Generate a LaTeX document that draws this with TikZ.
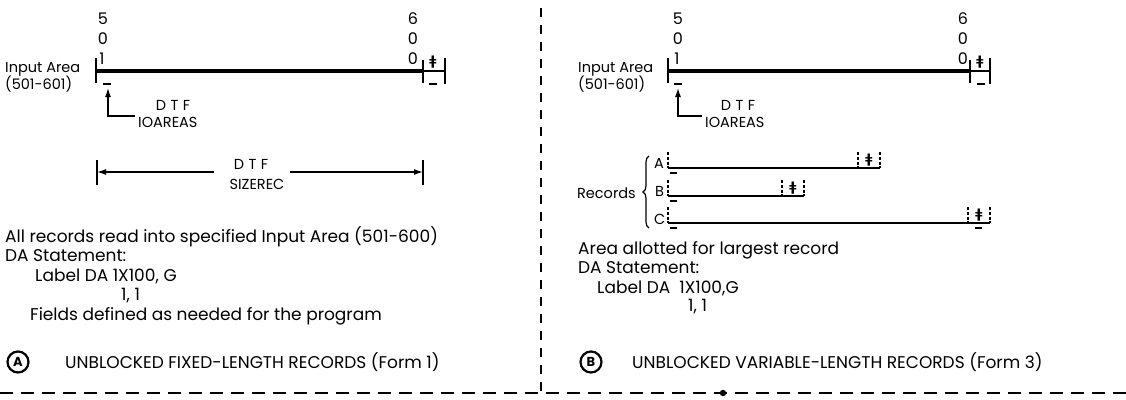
\documentclass[tikz,border=0pt]{standalone}
\usepackage{fontspec}
\setmainfont{Poppins}
\newfontfamily\symfont{DejaVu Sans}
\usetikzlibrary{arrows.meta,decorations.pathreplacing}
\newcommand{\mainsz}{\fontsize{17}{19}\selectfont}
\newcommand{\capsz}{\fontsize{17}{19}\selectfont}
\newcommand{\lblsz}{\fontsize{14.5}{17}\selectfont}
\newcommand{\digsz}{\fontsize{16}{18}\selectfont}
\newcommand{\spc}{\hspace{4.5pt}}
\begin{document}
\begin{tikzpicture}[x=1pt,y=-1pt,
  txt/.style={inner sep=0pt, anchor=base west, font=\mainsz},
  captxt/.style={inner sep=0pt, anchor=base west, font=\capsz},
  lbl/.style={inner sep=0pt, anchor=base west, font=\lblsz},
  ctr/.style={inner sep=0pt, anchor=base, font=\lblsz},
  dig/.style={inner sep=0pt, anchor=base, font=\digsz},
  thickbar/.style={line width=3.8pt},
  thinln/.style={line width=1.5pt},
  tickln/.style={line width=1.5pt},
  wm/.style={line width=1.4pt},
  dtick/.style={line width=1.2pt, dash pattern=on 3pt off 1.8pt},
  recln/.style={line width=1.4pt},
  arr/.style={line width=1.3pt, -{Latex[length=9pt,width=6pt]}},
  rmk/.style={inner sep=0pt, font=\symfont\bfseries\fontsize{13}{13}\selectfont},
  circ/.style={circle, draw, line width=2.2pt, minimum size=21pt, inner sep=0pt, font=\bfseries\fontsize{13}{13}\selectfont},
  divider/.style={line width=1.3pt, dash pattern=on 9pt off 8pt},
  bottomline/.style={line width=1.5pt, dash pattern=on 13pt off 8pt}]
\useasboundingbox (0,0) rectangle (1126,399);
\fill[white] (0,0) rectangle (1126,399);

% ---------------- Left panel ----------------
\node[dig] (l5) at (103,24) {5};
\node[dig] (l0a) at (103,44) {0};
\node[dig] (l1) at (102,64) {1};
\node[dig] (l6) at (413,24) {6};
\node[dig] (l0b) at (413,44) {0};
\node[dig] (l0c) at (413,64) {0};
\node[lbl] (lin) at (5,72) {Input Area};
\node[lbl] (lrng) at (5,89) {(501-601)};
\coordinate (lA) at (96,71);
\coordinate (lB) at (423,71);
\coordinate (lC) at (445,71);
\draw[thickbar] (lA) -- (lB);
\draw[thinln] (lB) -- (lC);
\draw[tickln] (96,58) -- (96,83);
\draw[tickln] (423,60) -- (423,83);
\draw[tickln] (445,58) -- (445,84);
\draw[wm] (103,84) -- (111,84);
\draw[wm] (429,84) -- (437,84);
\node[rmk] (lrm) at (433,62) {ǂ};
\node[ctr] (ldtf) at (173,110) {D\spc T\spc F};
\node[lbl] (lio) at (138,127) {IOAREAS};
\coordinate (lptr) at (108,88);
\coordinate (liotail) at (135,116);
\draw[arr] (liotail) -| (lptr);
% SIZEREC
\draw[tickln] (97,160) -- (97,185);
\draw[tickln] (423,160) -- (423,185);
\node[ctr] (ldtf2) at (251,169) {D\spc T\spc F};
\node[ctr] (lsz) at (257,189) {SIZEREC};
\coordinate (lszl) at (214,172);
\coordinate (lszr) at (290,172);
\coordinate (lszle) at (97,172);
\coordinate (lszre) at (423,172);
\draw[arr] (lszl) -- (lszle);
\draw[arr] (lszr) -- (lszre);
% text
\node[txt] (lt1) at (5,242) {All records read into specified Input Area (501-600)};
\node[txt] (lt2) at (5,261) {DA Statement:};
\node[txt] (lt3) at (35,281) {Label DA 1X100, G};
\node[txt] (lt4) at (121,300) {1, 1};
\node[txt] (lt5) at (30,320) {Fields defined as needed for the program};
\node[circ] (ca) at (18,362) {A};
\node[captxt] (lcap) at (65,368) {UNBLOCKED FIXED-LENGTH RECORDS (Form 1)};

% ---------------- Right panel ----------------
\node[dig] (r5) at (678,24) {5};
\node[dig] (r0a) at (678,44) {0};
\node[dig] (r1) at (677,64) {1};
\node[dig] (r6) at (963,24) {6};
\node[dig] (r0b) at (963,44) {0};
\node[dig] (r0c) at (963,64) {0};
\node[lbl] (rin) at (578,72) {Input Area};
\node[lbl] (rrng) at (578,89) {(501-601)};
\coordinate (rA) at (668,71);
\coordinate (rB) at (970,71);
\coordinate (rC) at (990,71);
\draw[thickbar] (rA) -- (rB);
\draw[thinln] (rB) -- (rC);
\draw[tickln] (668,58) -- (668,83);
\draw[tickln] (970,60) -- (970,83);
\draw[tickln] (990,58) -- (990,84);
\draw[wm] (674,84) -- (682,84);
\draw[wm] (977,84) -- (985,84);
\node[rmk] (rrm) at (980,62) {ǂ};
\node[ctr] (rdtf) at (738,110) {D\spc T\spc F};
\node[lbl] (rio) at (705,127) {IOAREAS};
\coordinate (rptr) at (678,88);
\coordinate (riotail) at (702,116);
\draw[arr] (riotail) -| (rptr);
% records
\node[inner sep=0pt, anchor=base east, font=\lblsz] (rec) at (636,198) {Records};
\draw[line width=1.2pt, decorate, decoration={brace, amplitude=6pt}] (649,228) -- (649,156);
\node[lbl] (ra) at (654,168) {A};
\node[lbl] (rbb) at (655,196) {B};
\node[lbl] (rc) at (654,224) {C};
% A
\draw[dtick] (668,152) -- (668,168);
\draw[recln] (668,168) -- (880,168);
\draw[dtick] (858,152) -- (858,168);
\draw[dtick] (880,152) -- (880,168);
\node[rmk] (rma) at (869,160) {ǂ};
\draw[wm] (670,173) -- (677,173);
% B
\draw[dtick] (668,180) -- (668,196);
\draw[recln] (668,196) -- (804,196);
\draw[dtick] (782,180) -- (782,196);
\draw[dtick] (804,180) -- (804,196);
\node[rmk] (rmb) at (793,188) {ǂ};
\draw[wm] (670,201) -- (677,201);
% C
\draw[dtick] (668,207) -- (668,223);
\draw[recln] (668,223) -- (990,223);
\draw[dtick] (968,207) -- (968,223);
\draw[dtick] (990,207) -- (990,223);
\node[rmk] (rmc) at (979,215) {ǂ};
\draw[wm] (670,228) -- (677,228);
\draw[wm] (975,228) -- (982,228);
% text
\node[txt] (rt1) at (578,254) {Area allotted for largest record};
\node[txt] (rt2) at (578,273) {DA Statement:};
\node[txt] (rt3) at (597,293) {Label DA\ \ 1X100,G};
\node[txt] (rt4) at (688,311) {1, 1};
\node[circ] (cb) at (591,362) {B};
\node[captxt] (rcap) at (632,368) {UNBLOCKED VARIABLE-LENGTH RECORDS (Form 3)};

% ---------------- separators ----------------
\coordinate (dvt) at (541,8);
\coordinate (dvb) at (541,393);
\draw[divider] (dvt) -- (dvb);
\coordinate (bl) at (0,393);
\coordinate (br) at (1126,393);
\draw[bottomline] (bl) -- (br);
\fill (723,393) circle (3.2pt);
\end{tikzpicture}
\end{document}
